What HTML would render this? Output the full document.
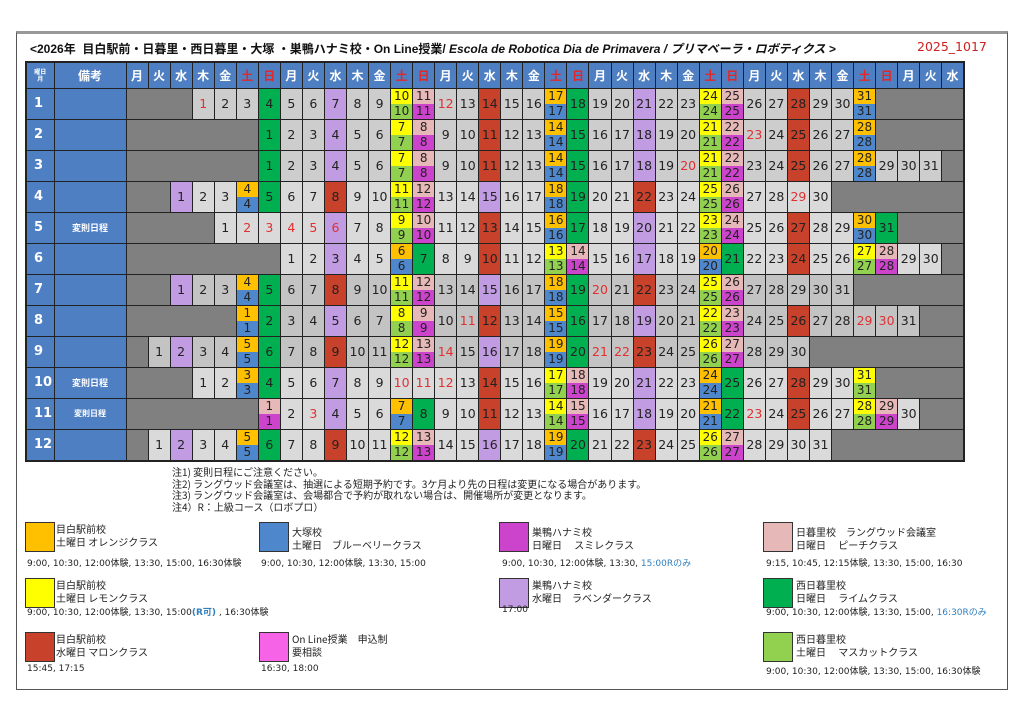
<!DOCTYPE html>
<html><head><meta charset="utf-8">
<style>
*{margin:0;padding:0;box-sizing:border-box}
body{width:1024px;height:724px;background:#fff;position:relative;font-family:"DejaVu Sans","Noto Sans CJK JP",sans-serif;overflow:hidden}
.frame{position:absolute;left:16px;top:31px;width:992px;height:659px;border:1px solid #555;border-top:3px solid #999}
.title{position:absolute;left:30px;top:40px;font-size:12px;font-family:"Liberation Sans","Noto Sans CJK JP",sans-serif;font-weight:bold;color:#111;white-space:nowrap}
.title i{font-style:italic}
.ver{position:absolute;left:917px;top:39px;font-size:12.5px;color:#d02020;font-family:"DejaVu Sans",sans-serif}
table{position:absolute;left:25px;top:61px;border-collapse:collapse;table-layout:fixed;width:938px;border:2px solid #222}
td{border:1px solid #222;text-align:center;vertical-align:middle;font-size:12.5px;color:#222;padding:0;overflow:hidden;white-space:nowrap}
tr.h td{background:#4f7fc3;color:#fff;font-weight:bold;font-size:12px;height:26px;font-family:"Noto Sans CJK JP",sans-serif}
tr.h td.r{color:#e02828}
tr.m{height:30.5px}
tr.m td.n0{background:#4f7fc3;color:#fff;font-weight:bold;font-size:13px;text-align:left;padding-left:7px}
tr.m td.n1{background:#4f7fc3;color:#fff;font-weight:bold;font-size:9px;font-family:"Noto Sans CJK JP",sans-serif}
tr.a td{background:#cdcdcd}
tr.b td{background:#dadada}
tr.c td{background:#c3c3c3}
td.g,tr td.g{background:#808080}
tr td.L{background:#c29ce2}
tr td.R{background:#c8412a}
tr td.G{background:#00b050}
td.r{color:#e03030}
td.s div{height:15px;line-height:15px;font-size:12px}
.o{background:#ffc000}.bl{background:#4f87cc}.y{background:#ffff00}.l{background:#92d050}.p{background:#e6b8b7}.pu{background:#cc44cc}
.notes{position:absolute;left:172px;top:466px;font-size:10px;line-height:11.5px;color:#222;font-family:"Noto Sans CJK JP",sans-serif}
.box{position:absolute;width:30px;height:30px;border:1px solid #333}
.lt{position:absolute;font-size:10px;line-height:13px;color:#222;font-family:"Noto Sans CJK JP",sans-serif;white-space:nowrap}
.tm{position:absolute;font-size:9px;color:#222;font-family:"DejaVu Sans","Noto Sans CJK JP",sans-serif;white-space:nowrap}
.bu{color:#2f7fbf}
</style></head><body>
<div class="frame"></div>
<div class="title">&lt;2026年&nbsp; 目白駅前・日暮里・西日暮里・大塚 ・巣鴨ハナミ校・On Line授業/ <i>Escola de Robotica Dia de Primavera / プリマベーラ・ロボティクス &gt;</i></div>
<div class="ver">2025_1017</div>
<table>
<colgroup><col style="width:28px"><col style="width:72px">
<col span="38" style="width:22.05px"></colgroup>
<tr class="h"><td style="font-size:6px;line-height:7px">曜日<br>月</td><td>備考</td>
<td>月</td><td>火</td><td>水</td><td>木</td><td>金</td><td class="r">土</td><td class="r">日</td>
<td>月</td><td>火</td><td>水</td><td>木</td><td>金</td><td class="r">土</td><td class="r">日</td>
<td>月</td><td>火</td><td>水</td><td>木</td><td>金</td><td class="r">土</td><td class="r">日</td>
<td>月</td><td>火</td><td>水</td><td>木</td><td>金</td><td class="r">土</td><td class="r">日</td>
<td>月</td><td>火</td><td>水</td><td>木</td><td>金</td><td class="r">土</td><td class="r">日</td>
<td>月</td><td>火</td><td>水</td></tr>

<tr class="m a"><td class="n0">1</td><td class="n1"></td><td class="g" colspan="3"></td><td class="r">1</td><td>2</td><td>3</td><td class="G">4</td><td>5</td><td>6</td><td class="L">7</td><td>8</td><td>9</td><td class="s"><div class="y">10</div><div class="l">10</div></td><td class="s"><div class="p">11</div><div class="pu">11</div></td><td class="r">12</td><td>13</td><td class="R">14</td><td>15</td><td>16</td><td class="s"><div class="o">17</div><div class="bl">17</div></td><td class="G">18</td><td>19</td><td>20</td><td class="L">21</td><td>22</td><td>23</td><td class="s"><div class="y">24</div><div class="l">24</div></td><td class="s"><div class="p">25</div><div class="pu">25</div></td><td>26</td><td>27</td><td class="R">28</td><td>29</td><td>30</td><td class="s"><div class="o">31</div><div class="bl">31</div></td><td class="g" colspan="4"></td></tr>

<tr class="m a"><td class="n0">2</td><td class="n1"></td><td class="g" colspan="6"></td><td class="G">1</td><td>2</td><td>3</td><td class="L">4</td><td>5</td><td>6</td><td class="s"><div class="y">7</div><div class="l">7</div></td><td class="s"><div class="p">8</div><div class="pu">8</div></td><td>9</td><td>10</td><td class="R">11</td><td>12</td><td>13</td><td class="s"><div class="o">14</div><div class="bl">14</div></td><td class="G">15</td><td>16</td><td>17</td><td class="L">18</td><td>19</td><td>20</td><td class="s"><div class="y">21</div><div class="l">21</div></td><td class="s"><div class="p">22</div><div class="pu">22</div></td><td class="r">23</td><td>24</td><td class="R">25</td><td>26</td><td>27</td><td class="s"><div class="o">28</div><div class="bl">28</div></td><td class="g" colspan="4"></td></tr>

<tr class="m a"><td class="n0">3</td><td class="n1"></td><td class="g" colspan="6"></td><td class="G">1</td><td>2</td><td>3</td><td class="L">4</td><td>5</td><td>6</td><td class="s"><div class="y">7</div><div class="l">7</div></td><td class="s"><div class="p">8</div><div class="pu">8</div></td><td>9</td><td>10</td><td class="R">11</td><td>12</td><td>13</td><td class="s"><div class="o">14</div><div class="bl">14</div></td><td class="G">15</td><td>16</td><td>17</td><td class="L">18</td><td>19</td><td class="r">20</td><td class="s"><div class="y">21</div><div class="l">21</div></td><td class="s"><div class="p">22</div><div class="pu">22</div></td><td>23</td><td>24</td><td class="R">25</td><td>26</td><td>27</td><td class="s"><div class="o">28</div><div class="bl">28</div></td><td>29</td><td>30</td><td>31</td><td class="g"></td></tr>

<tr class="m b"><td class="n0">4</td><td class="n1"></td><td class="g" colspan="2"></td><td class="L">1</td><td>2</td><td>3</td><td class="s"><div class="o">4</div><div class="bl">4</div></td><td class="G">5</td><td>6</td><td>7</td><td class="R">8</td><td>9</td><td>10</td><td class="s"><div class="y">11</div><div class="l">11</div></td><td class="s"><div class="p">12</div><div class="pu">12</div></td><td>13</td><td>14</td><td class="L">15</td><td>16</td><td>17</td><td class="s"><div class="o">18</div><div class="bl">18</div></td><td class="G">19</td><td>20</td><td>21</td><td class="R">22</td><td>23</td><td>24</td><td class="s"><div class="y">25</div><div class="l">25</div></td><td class="s"><div class="p">26</div><div class="pu">26</div></td><td>27</td><td>28</td><td class="r">29</td><td>30</td><td class="g" colspan="6"></td></tr>

<tr class="m b"><td class="n0">5</td><td class="n1">変則日程</td><td class="g" colspan="4"></td><td>1</td><td class="r">2</td><td class="r">3</td><td class="r">4</td><td class="r">5</td><td class="L r">6</td><td>7</td><td>8</td><td class="s"><div class="y">9</div><div class="l">9</div></td><td class="s"><div class="p">10</div><div class="pu">10</div></td><td>11</td><td>12</td><td class="R">13</td><td>14</td><td>15</td><td class="s"><div class="o">16</div><div class="bl">16</div></td><td class="G">17</td><td>18</td><td>19</td><td class="L">20</td><td>21</td><td>22</td><td class="s"><div class="y">23</div><div class="l">23</div></td><td class="s"><div class="p">24</div><div class="pu">24</div></td><td>25</td><td>26</td><td class="R">27</td><td>28</td><td>29</td><td class="s"><div class="o">30</div><div class="bl">30</div></td><td class="G">31</td><td class="g" colspan="3"></td></tr>

<tr class="m b"><td class="n0">6</td><td class="n1"></td><td class="g" colspan="7"></td><td>1</td><td>2</td><td class="L">3</td><td>4</td><td>5</td><td class="s"><div class="o">6</div><div class="bl">6</div></td><td class="G">7</td><td>8</td><td>9</td><td class="R">10</td><td>11</td><td>12</td><td class="s"><div class="y">13</div><div class="l">13</div></td><td class="s"><div class="p">14</div><div class="pu">14</div></td><td>15</td><td>16</td><td class="L">17</td><td>18</td><td>19</td><td class="s"><div class="o">20</div><div class="bl">20</div></td><td class="G">21</td><td>22</td><td>23</td><td class="R">24</td><td>25</td><td>26</td><td class="s"><div class="y">27</div><div class="l">27</div></td><td class="s"><div class="p">28</div><div class="pu">28</div></td><td>29</td><td>30</td><td class="g"></td></tr>

<tr class="m c"><td class="n0">7</td><td class="n1"></td><td class="g" colspan="2"></td><td class="L">1</td><td>2</td><td>3</td><td class="s"><div class="o">4</div><div class="bl">4</div></td><td class="G">5</td><td>6</td><td>7</td><td class="R">8</td><td>9</td><td>10</td><td class="s"><div class="y">11</div><div class="l">11</div></td><td class="s"><div class="p">12</div><div class="pu">12</div></td><td>13</td><td>14</td><td class="L">15</td><td>16</td><td>17</td><td class="s"><div class="o">18</div><div class="bl">18</div></td><td class="G">19</td><td class="r">20</td><td>21</td><td class="R">22</td><td>23</td><td>24</td><td class="s"><div class="y">25</div><div class="l">25</div></td><td class="s"><div class="p">26</div><div class="pu">26</div></td><td>27</td><td>28</td><td>29</td><td>30</td><td>31</td><td class="g" colspan="5"></td></tr>

<tr class="m c"><td class="n0">8</td><td class="n1"></td><td class="g" colspan="5"></td><td class="s"><div class="o">1</div><div class="bl">1</div></td><td class="G">2</td><td>3</td><td>4</td><td class="L">5</td><td>6</td><td>7</td><td class="s"><div class="y">8</div><div class="l">8</div></td><td class="s"><div class="p">9</div><div class="pu">9</div></td><td>10</td><td class="r">11</td><td class="R">12</td><td>13</td><td>14</td><td class="s"><div class="o">15</div><div class="bl">15</div></td><td class="G">16</td><td>17</td><td>18</td><td class="L">19</td><td>20</td><td>21</td><td class="s"><div class="y">22</div><div class="l">22</div></td><td class="s"><div class="p">23</div><div class="pu">23</div></td><td>24</td><td>25</td><td class="R">26</td><td>27</td><td>28</td><td class="r">29</td><td class="r">30</td><td>31</td><td class="g" colspan="2"></td></tr>

<tr class="m c"><td class="n0">9</td><td class="n1"></td><td class="g"></td><td>1</td><td class="L">2</td><td>3</td><td>4</td><td class="s"><div class="o">5</div><div class="bl">5</div></td><td class="G">6</td><td>7</td><td>8</td><td class="R">9</td><td>10</td><td>11</td><td class="s"><div class="y">12</div><div class="l">12</div></td><td class="s"><div class="p">13</div><div class="pu">13</div></td><td class="r">14</td><td>15</td><td class="L">16</td><td>17</td><td>18</td><td class="s"><div class="o">19</div><div class="bl">19</div></td><td class="G">20</td><td class="r">21</td><td class="r">22</td><td class="R">23</td><td>24</td><td>25</td><td class="s"><div class="y">26</div><div class="l">26</div></td><td class="s"><div class="p">27</div><div class="pu">27</div></td><td>28</td><td>29</td><td>30</td><td class="g" colspan="7"></td></tr>

<tr class="m b"><td class="n0">10</td><td class="n1">変則日程</td><td class="g" colspan="3"></td><td>1</td><td>2</td><td class="s"><div class="o">3</div><div class="bl">3</div></td><td class="G">4</td><td>5</td><td>6</td><td class="L">7</td><td>8</td><td>9</td><td class="r">10</td><td class="r">11</td><td class="r">12</td><td>13</td><td class="R">14</td><td>15</td><td>16</td><td class="s"><div class="y">17</div><div class="l">17</div></td><td class="s"><div class="p">18</div><div class="pu">18</div></td><td>19</td><td>20</td><td class="L">21</td><td>22</td><td>23</td><td class="s"><div class="o">24</div><div class="bl">24</div></td><td class="G">25</td><td>26</td><td>27</td><td class="R">28</td><td>29</td><td>30</td><td class="s"><div class="y">31</div><div class="l">31</div></td><td class="g" colspan="4"></td></tr>

<tr class="m b"><td class="n0">11</td><td class="n1" style="font-size:8px">変則日程</td><td class="g" colspan="6"></td><td class="s"><div class="p">1</div><div class="pu">1</div></td><td>2</td><td class="r">3</td><td class="L">4</td><td>5</td><td>6</td><td class="s"><div class="o">7</div><div class="bl">7</div></td><td class="G">8</td><td>9</td><td>10</td><td class="R">11</td><td>12</td><td>13</td><td class="s"><div class="y">14</div><div class="l">14</div></td><td class="s"><div class="p">15</div><div class="pu">15</div></td><td>16</td><td>17</td><td class="L">18</td><td>19</td><td>20</td><td class="s"><div class="o">21</div><div class="bl">21</div></td><td class="G">22</td><td class="r">23</td><td>24</td><td class="R">25</td><td>26</td><td>27</td><td class="s"><div class="y">28</div><div class="l">28</div></td><td class="s"><div class="p">29</div><div class="pu">29</div></td><td>30</td><td class="g" colspan="2"></td></tr>

<tr class="m b"><td class="n0">12</td><td class="n1"></td><td class="g"></td><td>1</td><td class="L">2</td><td>3</td><td>4</td><td class="s"><div class="o">5</div><div class="bl">5</div></td><td class="G">6</td><td>7</td><td>8</td><td class="R">9</td><td>10</td><td>11</td><td class="s"><div class="y">12</div><div class="l">12</div></td><td class="s"><div class="p">13</div><div class="pu">13</div></td><td>14</td><td>15</td><td class="L">16</td><td>17</td><td>18</td><td class="s"><div class="o">19</div><div class="bl">19</div></td><td class="G">20</td><td>21</td><td>22</td><td class="R">23</td><td>24</td><td>25</td><td class="s"><div class="y">26</div><div class="l">26</div></td><td class="s"><div class="p">27</div><div class="pu">27</div></td><td>28</td><td>29</td><td>30</td><td>31</td><td class="g" colspan="6"></td></tr>
</table>

<div class="notes">注1) 変則日程にご注意ください。<br>注2) ラングウッド会議室は、抽選による短期予約です。3ケ月より先の日程は変更になる場合があります。<br>注3) ラングウッド会議室は、会場都合で予約が取れない場合は、開催場所が変更となります。<br>注4）R：上級コース（ロボプロ）</div>

<div class="box" style="left:25px;top:522px;background:#ffc000"></div>
<div class="lt" style="left:56px;top:522px">目白駅前校<br>土曜日 オレンジクラス</div>
<div class="tm" style="left:27px;top:556px">9:00, 10:30, 12:00体験, 13:30, 15:00, 16:30体験</div>

<div class="box" style="left:259px;top:522px;background:#4f87cc"></div>
<div class="lt" style="left:292px;top:525px">大塚校<br>土曜日　ブルーベリークラス</div>
<div class="tm" style="left:261px;top:556px">9:00, 10:30, 12:00体験, 13:30, 15:00</div>

<div class="box" style="left:499px;top:522px;background:#cc44cc"></div>
<div class="lt" style="left:525px;top:525px;left:532px">巣鴨ハナミ校<br>日曜日　 スミレクラス</div>
<div class="tm" style="left:502px;top:556px">9:00, 10:30, 12:00体験, 13:30, <span class="bu">15:00Rのみ</span></div>

<div class="box" style="left:763px;top:522px;background:#e6b8b7"></div>
<div class="lt" style="left:796px;top:525px">日暮里校　ラングウッド会議室<br>日曜日　 ピーチクラス</div>
<div class="tm" style="left:766px;top:556px">9:15, 10:45, 12:15体験, 13:30, 15:00, 16:30</div>

<div class="box" style="left:25px;top:578px;background:#ffff00"></div>
<div class="lt" style="left:56px;top:578px">目白駅前校<br>土曜日 レモンクラス</div>
<div class="tm" style="left:27px;top:605px">9:00, 10:30, 12:00体験, 13:30, 15:00<span class="bu" style="font-weight:bold">(R可)</span> , 16:30体験</div>

<div class="box" style="left:499px;top:578px;background:#c29ce2"></div>
<div class="lt" style="left:532px;top:578px">巣鴨ハナミ校<br>水曜日　ラベンダークラス</div>
<div class="tm" style="left:502px;top:605px">17:00</div>

<div class="box" style="left:763px;top:578px;background:#00b050"></div>
<div class="lt" style="left:796px;top:578px">西日暮里校<br>日曜日　 ライムクラス</div>
<div class="tm" style="left:766px;top:605px">9:00, 10:30, 12:00体験, 13:30, 15:00, <span class="bu">16:30Rのみ</span></div>

<div class="box" style="left:25px;top:632px;background:#c8412a"></div>
<div class="lt" style="left:56px;top:632px">目白駅前校<br>水曜日 マロンクラス</div>
<div class="tm" style="left:27px;top:664px">15:45, 17:15</div>

<div class="box" style="left:259px;top:632px;background:#f763e6"></div>
<div class="lt" style="left:292px;top:632px">On Line授業　申込制<br>要相談</div>
<div class="tm" style="left:261px;top:664px">16:30, 18:00</div>

<div class="box" style="left:763px;top:632px;background:#92d050"></div>
<div class="lt" style="left:796px;top:632px">西日暮里校<br>土曜日　 マスカットクラス</div>
<div class="tm" style="left:766px;top:664px">9:00, 10:30, 12:00体験, 13:30, 15:00, 16:30体験</div>
</body></html>
